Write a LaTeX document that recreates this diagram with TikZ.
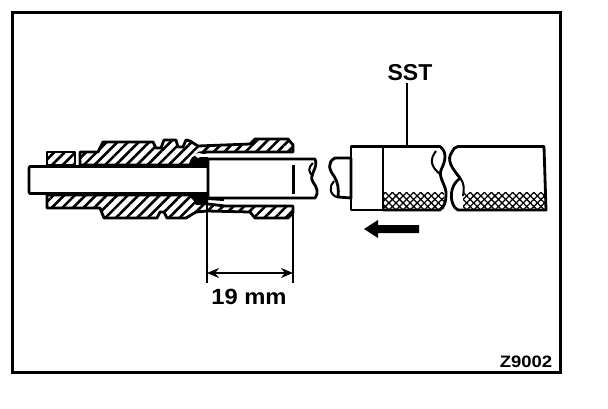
\documentclass[tikz,border=0pt]{standalone}
\usepackage{fontspec}
\setmainfont{Liberation Sans}
\usetikzlibrary{arrows.meta,patterns.meta}
\tikzset{
  outline/.style={draw=black,line width=2.8pt,line join=round},
  hatched/.style={outline,pattern={Lines[angle=45,distance=7.5pt,line width=2.6pt]},pattern color=black},
  whitepart/.style={outline,fill=white},
  crossa/.style={pattern={Lines[angle=45,distance=5pt,line width=1.3pt]},pattern color=black},
  crossb/.style={pattern={Lines[angle=-45,distance=5pt,line width=1.3pt]},pattern color=black},
  thinline/.style={draw=black,line width=2pt},
  label/.style={inner sep=0pt,text=black}
}
\begin{document}
\begin{tikzpicture}[x=1pt,y=-1pt]
\useasboundingbox (0,0) rectangle (608,408);
% frame
\draw[line width=2.7pt] (12.5,12.5) rectangle (560.5,372.7);
% hatched fitting
\path[hatched] (47,152) -- (75,152) -- (75,165) -- (47,165) -- cycle;
\path[hatched] (80,165) -- (80,152) -- (98,152) -- (103,142) -- (153,142) -- (156,148) -- (161,148) -- (164,140) -- (176,140) -- (178,147) -- (183,147) -- (186,140) -- (190,141) -- (198,146) -- (250,144) -- (255,139) -- (288,139) -- (293,145) -- (293,152) -- (208,152) -- (199,153) -- (192,160) -- (190,165) -- cycle;
\path[hatched] (47,195) -- (47,208) -- (100,208) -- (104,218) -- (157,218) -- (160,212) -- (164,212) -- (167,218) -- (186,218) -- (196,212) -- (207,211) -- (250,212) -- (255,218) -- (288,218) -- (293,213) -- (293,206) -- (225,206) -- (208,204) -- (198,203) -- (190,195) -- cycle;
% seal
\fill (192,157) -- (208,157) -- (208,167) -- (190,167) -- cycle;
\fill (190,193) -- (208,193) -- (208,204) -- (196,205) -- cycle;
\fill[white] (194,155) .. controls (198,152) and (201,153) .. (204,155) -- (198,158) -- cycle;
% small tube
\path[whitepart] (208,166.5) -- (30,166.5) -- (29,168) -- (29,192) -- (30,193.5) -- (208,193.5);
% large tube
\path[whitepart] (315,159) -- (208,159) -- (208,198) -- (315,198) .. controls (319,192) and (317,188) .. (313,182) .. controls (308,175) and (319,168) .. (315,159) -- cycle;
\draw[thinline] (313,163) .. controls (308,168) and (308,172) .. (313,176);
\draw[line width=3pt] (293,165) -- (293,194);
\draw[line width=3pt] (208,198.5) -- (224,199.5);
% rod of the tool
\path[whitepart] (351,158) -- (335,158) .. controls (327,162) and (329,170) .. (334,176) .. controls (338,182) and (339,190) .. (338,197) -- (351,198) -- cycle;
\draw[thinline] (334,181) .. controls (329,186) and (329,195) .. (338,197.5);
% tool, left part
\fill[crossa] (384,192) rectangle (444,209);
\fill[crossb] (384,192) rectangle (444,209);
\fill[crossa] (463,192) rectangle (545,209);
\fill[crossb] (463,192) rectangle (545,209);
\draw[outline] (351,146.5) rectangle (383,210);
\draw[outline] (383,146.5) -- (440,146.5) .. controls (447,152) and (446,160) .. (441,170) .. controls (438,178) and (447,186) .. (446,195) .. controls (446,202) and (444,207) .. (440,210) -- (383,210);
\draw[thinline] (436,151) .. controls (429,160) and (431,167) .. (441,175);
% tool, right part
\draw[outline] (458,210) .. controls (450,206) and (449,190) .. (456,182) -- (460,178) .. controls (452,168) and (446,160) .. (452,152) .. controls (453,149) and (455,147) .. (458,146.5) -- (544,146.5) -- (546,210) -- cycle;
\draw[thinline] (460,178) .. controls (465,184) and (464,190) .. (463,196);
% pull arrow
\fill (364,229) -- (378,220) -- (378,225) -- (419,225) -- (419,233) -- (378,233) -- (378,238) -- cycle;
% dimension
\coordinate (dimLtop) at (207,198);
\coordinate (dimLbot) at (207,283);
\coordinate (dimRtop) at (293,213);
\coordinate (dimRbot) at (293,283);
\coordinate (arrL) at (207,273);
\coordinate (arrR) at (293,273);
\draw[thinline] (dimLtop) -- (dimLbot);
\draw[thinline] (dimRtop) -- (dimRbot);
\draw[line width=1.8pt,{Stealth[length=12pt,width=10pt]}-{Stealth[length=12pt,width=10pt]}] (arrL) -- (arrR);
% labels
\node[label,font=\bfseries\fontsize{22}{22}\selectfont,xscale=1.08] (dim) at (249,297) {19 mm};
\node[label,font=\bfseries\fontsize{23}{23}\selectfont] (sst) at (410,72.5) {SST};
\node[label,font=\bfseries\fontsize{16.5}{16.5}\selectfont,xscale=1.12] (code) at (526,362) {Z9002};
\coordinate (leaderEnd) at (407,146);
\draw[line width=2.2pt] (407,83) -- (leaderEnd);
\end{tikzpicture}
\end{document}
